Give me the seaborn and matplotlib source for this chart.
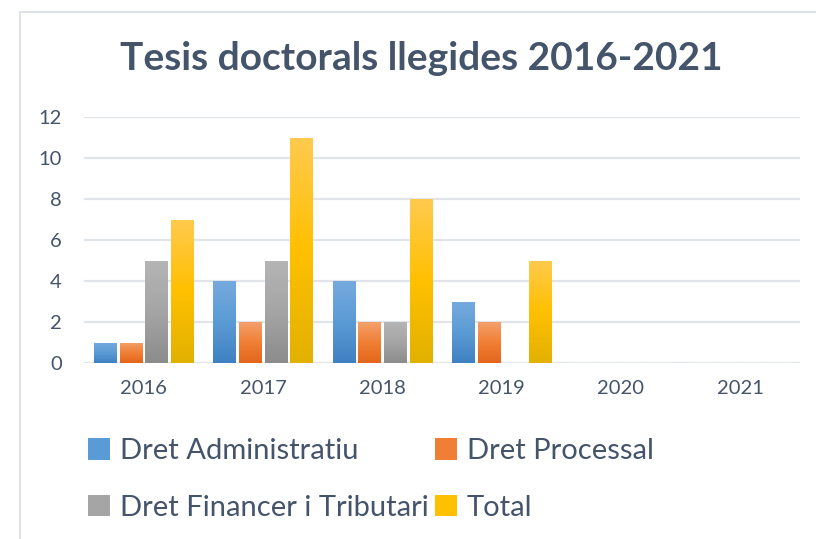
import matplotlib
matplotlib.use("Agg")
import matplotlib.pyplot as plt
import seaborn as sns
import pandas as pd
import numpy as np
from matplotlib.colors import LinearSegmentedColormap
from matplotlib.patches import Patch, Rectangle

# data
anys = ["2016", "2017", "2018", "2019", "2020", "2021"]
series = ["Dret Administratiu", "Dret Processal", "Dret Financer i Tributari", "Total"]
dret_administratiu = [1, 4, 4, 3, 0, 0]
dret_processal = [1, 2, 2, 2, 0, 0]
dret_financer = [5, 5, 2, 0, 0, 0]
total = [7, 11, 8, 5, 0, 0]

df = pd.DataFrame({
    "any": anys * 4,
    "serie": [s for s in series for _ in anys],
    "valor": dret_administratiu + dret_processal + dret_financer + total,
})

# gradient colours (top, mid, bottom)
gradients = {
    "Dret Administratiu": ["#76aadf", "#5b9bd5", "#3f80c2"],
    "Dret Processal": ["#f4a06c", "#f07f35", "#e2661b"],
    "Dret Financer i Tributari": ["#b5b5b5", "#a5a5a5", "#8c8c8c"],
    "Total": ["#ffca4f", "#ffc000", "#e2b100"],
}
flat = {k: v[1] for k, v in gradients.items()}

sns.set_theme(style="white")
plt.rcParams["font.family"] = ["Lato", "DejaVu Sans"]
txt = "#44546a"

fig = plt.figure(figsize=(8.16, 5.39), dpi=100)
ax = fig.add_axes([84 / 816, 1 - 363 / 539, 716 / 816, 246 / 539])

sns.barplot(data=df, x="any", y="valor", hue="serie", hue_order=series,
            palette=flat, width=0.86, gap=0.14, ax=ax, legend=False,
            errorbar=None, zorder=3)

ax.set_ylim(0, 12)
ax.set_yticks(range(0, 13, 2))
ax.set_xlim(-0.5, 5.5)
ax.grid(axis="y", color="#e1e4e8", linewidth=1.6, zorder=0)
ax.axhline(0, color="#e1e4e8", linewidth=2, zorder=2)
for s in ax.spines.values():
    s.set_visible(False)
ax.set_xlabel("")
ax.set_ylabel("")
ax.tick_params(axis="both", length=0, labelsize=14.5, labelcolor=txt)
ax.tick_params(axis="y", pad=16)
ax.tick_params(axis="x", pad=12)

# gradient fill of the bars
grad = np.linspace(0, 1, 256).reshape(-1, 1)
for cont, name in zip(ax.containers, series):
    cmap = LinearSegmentedColormap.from_list(name, gradients[name][::-1])
    for bar in cont:
        h = bar.get_height()
        if h <= 0:
            continue
        x0 = bar.get_x()
        im = ax.imshow(grad, cmap=cmap, origin="lower", aspect="auto",
                       extent=(x0, x0 + bar.get_width(), 0, h), zorder=3)
        im.set_clip_path(bar)
        bar.set_alpha(0)
ax.set_xlim(-0.5, 5.5)
ax.set_ylim(0, 12)

fig.suptitle("Tesis doctorals llegides 2016-2021", x=421 / 816, y=1 - 59 / 539,
             va="center", fontsize=28, fontweight="bold", color=txt)

# legend filled row by row like the original
order = [series[0], series[2], series[1], series[3]]
handles = [Patch(facecolor=flat[s], edgecolor="none", label=s) for s in order]
leg = fig.legend(handles=handles, ncol=2, loc="upper left",
                 bbox_to_anchor=(62 / 816, 1 - 412 / 539), frameon=False,
                 fontsize=21, labelcolor=txt, handlelength=0.75, handleheight=0.75,
                 handletextpad=0.35, columnspacing=0.2, labelspacing=1.05)

# chart area border
fig.patches.append(Rectangle((20 / 816, -0.05), 1.0, 1 - 12 / 539 + 0.05,
                             transform=fig.transFigure, fill=False,
                             edgecolor="#dfe3e8", linewidth=1.5))

fig.savefig("out.png", dpi=100)
